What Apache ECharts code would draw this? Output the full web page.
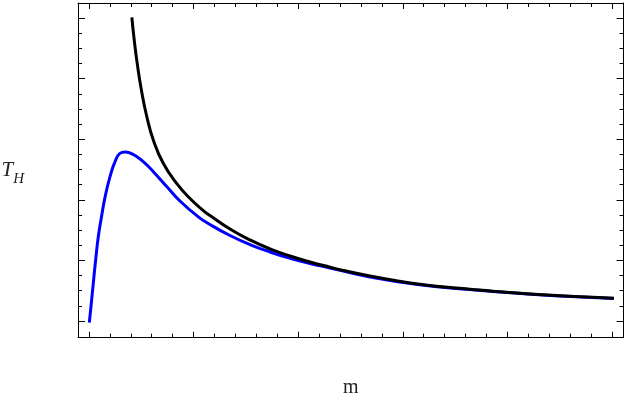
<!DOCTYPE html>
<html>
<head>
<meta charset="utf-8">
<script src="https://cdn.jsdelivr.net/npm/echarts@6/dist/echarts.min.js"></script>
<style>
  html, body { margin: 0; padding: 0; background: #fff; }
  #chart { width: 644px; height: 413px; }
</style>
</head>
<body>
<div id="chart"></div>
<script>
// blue curve (m, T_H)
var blueM = [0.003, 0.019, 0.041, 0.067, 0.089, 0.121, 0.153, 0.201, 0.249, 0.296, 0.344, 0.392, 0.44, 0.519, 0.615, 0.743, 0.87, 1.045, 1.157, 1.348, 1.539, 1.73, 1.922, 2.113, 2.304, 2.686, 3.164, 3.642, 4.187, 4.503, 5.019];
var blueT = [-0.028, 0.236, 0.622, 1.061, 1.391, 1.733, 2.041, 2.381, 2.629, 2.767, 2.789, 2.772, 2.731, 2.629, 2.464, 2.22, 1.98, 1.719, 1.592, 1.411, 1.262, 1.139, 1.035, 0.949, 0.875, 0.726, 0.597, 0.518, 0.446, 0.413, 0.373];

// black curve
var blackM = [0.41, 0.429, 0.461, 0.501, 0.553, 0.615, 0.71, 0.838, 0.966, 1.093, 1.157, 1.348, 1.539, 1.73, 1.922, 2.113, 2.304, 2.447, 2.686, 2.925, 3.164, 3.403, 3.642, 3.862, 4.187, 4.503, 4.818, 5.019];
var blackT = [5.012, 4.691, 4.252, 3.812, 3.371, 2.987, 2.602, 2.272, 2.021, 1.823, 1.741, 1.518, 1.337, 1.191, 1.073, 0.974, 0.888, 0.828, 0.743, 0.67, 0.607, 0.561, 0.525, 0.492, 0.45, 0.417, 0.391, 0.375];

// frame ticks (no labels in the picture)
var majorX = [0, 1, 2, 3, 4, 5];
var minorX = [0.2, 0.4, 0.6, 0.8, 1.2, 1.4, 1.6, 1.8, 2.2, 2.4, 2.6, 2.8, 3.2, 3.4, 3.6, 3.8, 4.2, 4.4, 4.6, 4.8];
var majorY = [0, 1, 2, 3, 4, 5];
var minorY = [0.25, 0.5, 0.75, 1.25, 1.5, 1.75, 2.25, 2.5, 2.75, 3.25, 3.5, 3.75, 4.25, 4.5, 4.75];

var xMin = -0.105, xMax = 5.11;
var yMin = -0.276, yMax = 5.248;

function pairs(xs, ys) {
    var out = [];
    for (var i = 0; i < xs.length; i++) {
        out.push([xs[i], ys[i]]);
    }
    return out;
}

// one axis of the frame: major or minor ticks on one side
function frameAxis(pos, lo, hi, ticks, len, withLine) {
    return {
        type: 'value',
        position: pos,
        min: lo,
        max: hi,
        axisLine: { show: withLine, onZero: false, lineStyle: { color: '#000', width: 1 } },
        axisTick: { show: true, inside: true, length: len, customValues: ticks, lineStyle: { color: '#000', width: 1 } },
        axisLabel: { show: false },
        splitLine: { show: false }
    };
}

var xAxes = [
    frameAxis('bottom', xMin, xMax, majorX, 6, true),
    frameAxis('bottom', xMin, xMax, minorX, 4, false),
    frameAxis('top', xMin, xMax, majorX, 6, true),
    frameAxis('top', xMin, xMax, minorX, 4, false)
];
xAxes[0].name = 'm';
xAxes[0].nameLocation = 'middle';
xAxes[0].nameGap = 40;
xAxes[0].nameTextStyle = { fontFamily: 'Liberation Serif', fontSize: 20, color: '#222' };

var yAxes = [
    frameAxis('left', yMin, yMax, majorY, 7, true),
    frameAxis('left', yMin, yMax, minorY, 4, false),
    frameAxis('right', yMin, yMax, majorY, 7, true),
    frameAxis('right', yMin, yMax, minorY, 4, false)
];
yAxes[0].name = '{t|T}{h|H}';
yAxes[0].nameLocation = 'middle';
yAxes[0].nameRotate = 0;
yAxes[0].nameGap = 54;
yAxes[0].nameTextStyle = {
    color: '#222',
    rich: {
        t: { fontFamily: 'Liberation Serif', fontStyle: 'italic', fontSize: 21, color: '#222', verticalAlign: 'bottom', lineHeight: 22 },
        h: { fontFamily: 'Liberation Serif', fontStyle: 'italic', fontSize: 15, color: '#222', verticalAlign: 'bottom', lineHeight: 14, padding: [0, 0, -5, 0] }
    }
};

var option = {
    animation: false,
    backgroundColor: '#fff',
    grid: { left: 78, right: 20.5, top: 3, bottom: 75.3, containLabel: false, outerBoundsMode: 'none' },
    xAxis: xAxes,
    yAxis: yAxes,
    series: [
        {
            type: 'line',
            data: pairs(blueM, blueT),
            smooth: 0.5,
            showSymbol: false,
            lineStyle: { color: '#0000ff', width: 3 },
            z: 2
        },
        {
            type: 'line',
            data: pairs(blackM, blackT),
            smooth: 0.5,
            showSymbol: false,
            lineStyle: { color: '#000', width: 3 },
            z: 3
        }
    ]
};

echarts.init(document.getElementById('chart')).setOption(option);
</script>
</body>
</html>
